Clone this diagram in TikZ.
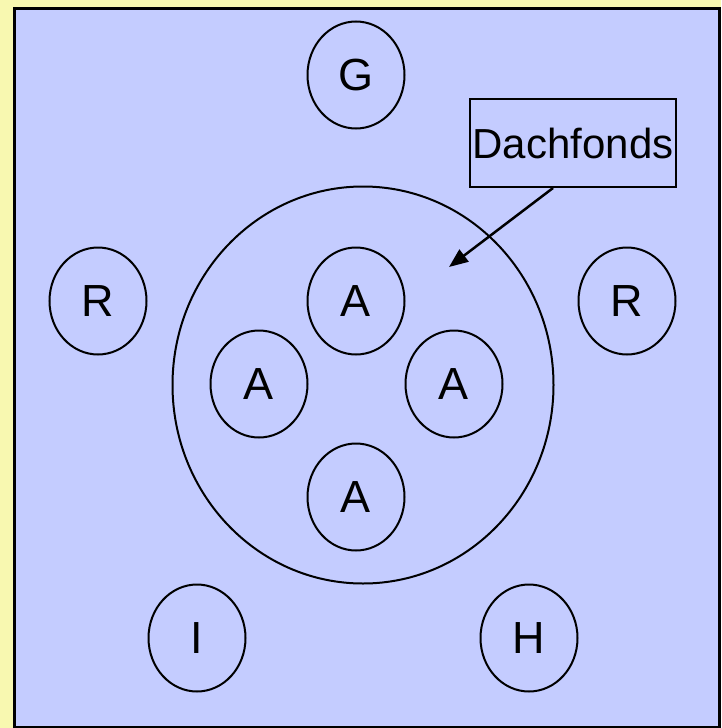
\documentclass[tikz,border=0pt]{standalone}
\usepackage{fontspec}
\setmainfont{Liberation Sans}
\usetikzlibrary{shapes.geometric,arrows.meta}
\definecolor{bgyellow}{RGB}{248,248,176}
\definecolor{panelblue}{RGB}{196,204,255}
\begin{document}
\begin{tikzpicture}[x=1pt,y=-1pt,
  letter/.style={draw=black,line width=2pt,ellipse,minimum width=97pt,minimum height=107pt,inner sep=0pt,font=\fontsize{45}{45}\selectfont},
  labelbox/.style={draw=black,line width=2pt,rectangle,minimum width=206pt,minimum height=88pt,inner sep=0pt,font=\fontsize{42}{42}\selectfont},
  pointer/.style={line width=2.5pt,-{Triangle[length=19pt,width=15pt]}}]
\useasboundingbox (0,0) rectangle (721,728);
\fill[bgyellow] (0,0) rectangle (721,728);
\draw[fill=panelblue,line width=3pt] (14,8) rectangle (719,727);
\node[draw=black,line width=2pt,ellipse,minimum width=381pt,minimum height=397pt,inner sep=0pt] (fund) at (363,385) {};
\node[letter] (g) at (356,75) {G};
\node[letter] (rl) at (98,301) {R};
\node[letter] (rr) at (627,301) {R};
\node[letter] (at) at (356,301) {A};
\node[letter] (al) at (259,384) {A};
\node[letter] (ar) at (454,384) {A};
\node[letter] (ab) at (356,497) {A};
\node[letter] (i) at (197,638) {I};
\node[letter] (h) at (529,638) {H};
\node[labelbox] (dach) at (573,143) {Dachfonds};
\coordinate (tip) at (449,267);
\draw[pointer] ([xshift=-20pt]dach.south) -- (tip);
\end{tikzpicture}
\end{document}
